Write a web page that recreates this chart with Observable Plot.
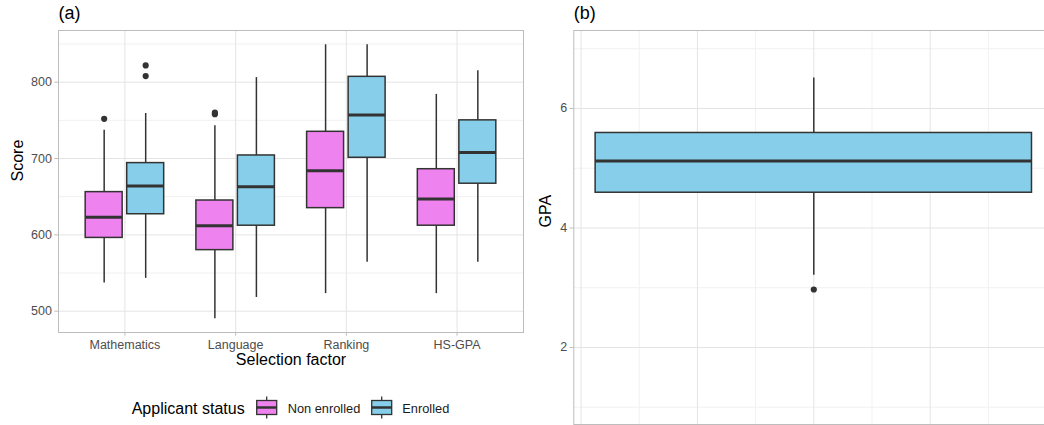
<!DOCTYPE html>
<html><head><meta charset="utf-8">
<script src="https://cdn.jsdelivr.net/npm/d3@7"></script>
<script src="https://cdn.jsdelivr.net/npm/@observablehq/plot@0.6"></script>
<style>
html,body{margin:0;padding:0;background:#fff;overflow:hidden;}
#root{position:relative;width:1044px;height:425px;overflow:hidden;font-family:"Liberation Sans",Arial,Helvetica,sans-serif;}
#root > svg{position:absolute;overflow:visible;}
</style></head><body><div id="root"></div>
<script>
// ---------- data ----------
const categories = ["Mathematics", "Language", "Ranking", "HS-GPA"];
const statuses = ["Non enrolled", "Enrolled"];
const statusColors = ["#EE82EE", "#87CEEB"];
// Non enrolled (whisker low, Q1, median, Q3, whisker high)
const nonEnrolledLow    = [537, 490, 523, 523];
const nonEnrolledQ1     = [596, 580, 635, 612];
const nonEnrolledMedian = [623, 612, 684, 647];
const nonEnrolledQ3     = [656, 645, 735, 686];
const nonEnrolledHigh   = [737, 743, 849, 784];
const nonEnrolledOutliers = [[752], [758, 760], [], []];
// Enrolled
const enrolledLow    = [543, 518, 564, 564];
const enrolledQ1     = [627, 612, 701, 667];
const enrolledMedian = [664, 663, 757, 708];
const enrolledQ3     = [694, 704, 807, 750];
const enrolledHigh   = [759, 806, 849, 815];
const enrolledOutliers = [[808, 822], [], [], []];
const scoreTicks = [500, 600, 700, 800];
// GPA panel
const gpaLow = 3.21, gpaQ1 = 4.59, gpaMedian = 5.12, gpaQ3 = 5.59, gpaHigh = 6.51;
const gpaOutliers = [2.97];
const gpaTicks = [2, 4, 6];

// ---------- helpers ----------
const FONT = '"Liberation Sans", Arial, Helvetica, sans-serif';
const INK = "#333333", GRID = "#e4e4e4", GRID_MINOR = "#f1f1f1", BORDER = "#bdbdbd", TICKTXT = "#4d4d4d";
const DODGE = 0.1875, HALF = 0.167;

const series = [
  {low: nonEnrolledLow, q1: nonEnrolledQ1, med: nonEnrolledMedian, q3: nonEnrolledQ3, high: nonEnrolledHigh, out: nonEnrolledOutliers},
  {low: enrolledLow, q1: enrolledQ1, med: enrolledMedian, q3: enrolledQ3, high: enrolledHigh, out: enrolledOutliers}
];
const rows = [], outRows = [];
categories.forEach((c, i) => {
  series.forEach((s, k) => {
    const pos = i + (k === 0 ? -DODGE : DODGE);
    rows.push({cat: c, status: statuses[k], pos, low: s.low[i], q1: s.q1[i], med: s.med[i], q3: s.q3[i], high: s.high[i]});
    s.out[i].forEach(v => outRows.push({status: statuses[k], pos, value: v}));
  });
});
const scoreMinor = scoreTicks.map(t => t + 50);
const catIdx = categories.map((_, i) => i);

const root = document.getElementById("root");

// ---------- panel (a) ----------
const pa = Plot.plot({
  width: 530, height: 375,
  marginLeft: 58, marginRight: 7, marginTop: 30, marginBottom: 43,
  style: {fontFamily: FONT, background: "transparent", overflow: "visible"},
  x: {domain: [-0.6, 3.6]},
  y: {domain: [472.1, 867.7]},
  color: {domain: statuses, range: statusColors},
  marks: [
    Plot.ruleY(scoreMinor, {stroke: GRID_MINOR, strokeWidth: 1}),
    Plot.ruleY(scoreTicks, {stroke: GRID, strokeWidth: 1}),
    Plot.ruleX(catIdx, {stroke: GRID, strokeWidth: 1}),
    Plot.frame({stroke: BORDER, strokeWidth: 1}),
    Plot.ruleX(rows, {x: "pos", y1: "low", y2: "q1", stroke: INK, strokeWidth: 1.5}),
    Plot.ruleX(rows, {x: "pos", y1: "q3", y2: "high", stroke: INK, strokeWidth: 1.5}),
    Plot.rect(rows, {x1: d => d.pos - HALF, x2: d => d.pos + HALF, y1: "q1", y2: "q3", fill: "status", stroke: INK, strokeWidth: 1.5}),
    Plot.ruleY(rows, {y: "med", x1: d => d.pos - HALF, x2: d => d.pos + HALF, stroke: INK, strokeWidth: 3}),
    Plot.dot(outRows, {x: "pos", y: "value", r: 3.1, fill: INK, stroke: "none"}),
    Plot.axisY({ticks: scoreTicks, tickSize: 3.7, tickPadding: 2.9, stroke: BORDER, fill: TICKTXT, fontSize: 12.5, label: null}),
    Plot.axisX({ticks: catIdx, tickFormat: i => categories[i], tickSize: 3.7, tickPadding: 4.2, stroke: BORDER, fill: TICKTXT, fontSize: 12.5, label: null}),
    Plot.text(["Score"], {text: d => d, frameAnchor: "left", dx: -40.5, rotate: -90, fontSize: 16, fill: "#000"}),
    Plot.text(["Selection factor"], {text: d => d, frameAnchor: "bottom", dy: 32, fontSize: 16, fill: "#000"}),
    Plot.text(["(a)"], {text: d => d, frameAnchor: "top-left", dy: -12, textAnchor: "start", lineAnchor: "bottom", fontSize: 18, fill: "#000"})
  ]
});
pa.style.left = "0px"; pa.style.top = "0px";
root.appendChild(pa);

// ---------- panel (b) ----------
const gpaMinor = gpaTicks.map(t => t - 1).concat([gpaTicks[gpaTicks.length - 1] + 1]);
const gpaXMajor = [-0.4, -0.2, 0, 0.2, 0.4];
const gpaXMinor = [-0.3, -0.1, 0.1, 0.3];
const gpaBox = [{pos: 0, low: gpaLow, q1: gpaQ1, med: gpaMedian, q3: gpaQ3, high: gpaHigh}];
const pb = Plot.plot({
  width: 540, height: 440,
  marginLeft: 43.3, marginRight: 16.7, marginTop: 30, marginBottom: 16,
  style: {fontFamily: FONT, background: "transparent", overflow: "visible"},
  x: {domain: [-0.4125, 0.4125], axis: null},
  y: {domain: [0.711, 7.305]},
  marks: [
    Plot.ruleY(gpaMinor, {stroke: GRID_MINOR, strokeWidth: 1}),
    Plot.ruleX(gpaXMinor, {stroke: GRID_MINOR, strokeWidth: 1}),
    Plot.ruleY(gpaTicks, {stroke: GRID, strokeWidth: 1}),
    Plot.ruleX(gpaXMajor, {stroke: GRID, strokeWidth: 1}),
    Plot.frame({stroke: BORDER, strokeWidth: 1}),
    Plot.ruleX(gpaBox, {x: "pos", y1: "low", y2: "q1", stroke: INK, strokeWidth: 1.5}),
    Plot.ruleX(gpaBox, {x: "pos", y1: "q3", y2: "high", stroke: INK, strokeWidth: 1.5}),
    Plot.rect(gpaBox, {x1: -0.375, x2: 0.375, y1: "q1", y2: "q3", fill: statusColors[1], stroke: INK, strokeWidth: 1.5}),
    Plot.ruleY(gpaBox, {y: "med", x1: -0.375, x2: 0.375, stroke: INK, strokeWidth: 3}),
    Plot.dot(gpaOutliers, {x: 0, y: d => d, r: 3.1, fill: INK, stroke: "none"}),
    Plot.axisY({ticks: gpaTicks, tickFormat: d => String(d), tickSize: 3.7, tickPadding: 2.9, stroke: BORDER, fill: TICKTXT, fontSize: 12.5, label: null}),
    Plot.text(["GPA"], {text: d => d, frameAnchor: "left", dx: -28.3, rotate: -90, fontSize: 16, fill: "#000"}),
    Plot.text(["(b)"], {text: d => d, frameAnchor: "top-left", dy: -12, textAnchor: "start", lineAnchor: "bottom", fontSize: 18, fill: "#000"})
  ]
});
pb.style.left = "530px"; pb.style.top = "0px";
root.appendChild(pb);

// ---------- legend ----------
const lg = d3.select(root).append("svg")
  .attr("width", 530).attr("height", 40)
  .style("left", "0px").style("top", "385px")
  .style("font-family", FONT);
lg.append("text").attr("x", 131.7).attr("y", 29.3).attr("font-size", 16).attr("fill", "#000").text("Applicant status");
const keyX = [256.7, 371.7], labX = [287.7, 402.3];
statuses.forEach((s, k) => {
  const g = lg.append("g");
  const cx = keyX[k] + 10, cy = 22.5;
  g.append("line").attr("x1", cx).attr("x2", cx).attr("y1", cy - 11).attr("y2", cy + 11).attr("stroke", INK).attr("stroke-width", 1.3);
  g.append("rect").attr("x", keyX[k]).attr("y", cy - 7).attr("width", 20).attr("height", 14)
    .attr("fill", statusColors[k]).attr("stroke", INK).attr("stroke-width", 1.3);
  g.append("line").attr("x1", keyX[k]).attr("x2", keyX[k] + 20).attr("y1", cy).attr("y2", cy).attr("stroke", INK).attr("stroke-width", 2.5);
  lg.append("text").attr("x", labX[k]).attr("y", 28.3).attr("font-size", 12.8).attr("fill", "#1a1a1a").text(s);
});
</script>
</body></html>
